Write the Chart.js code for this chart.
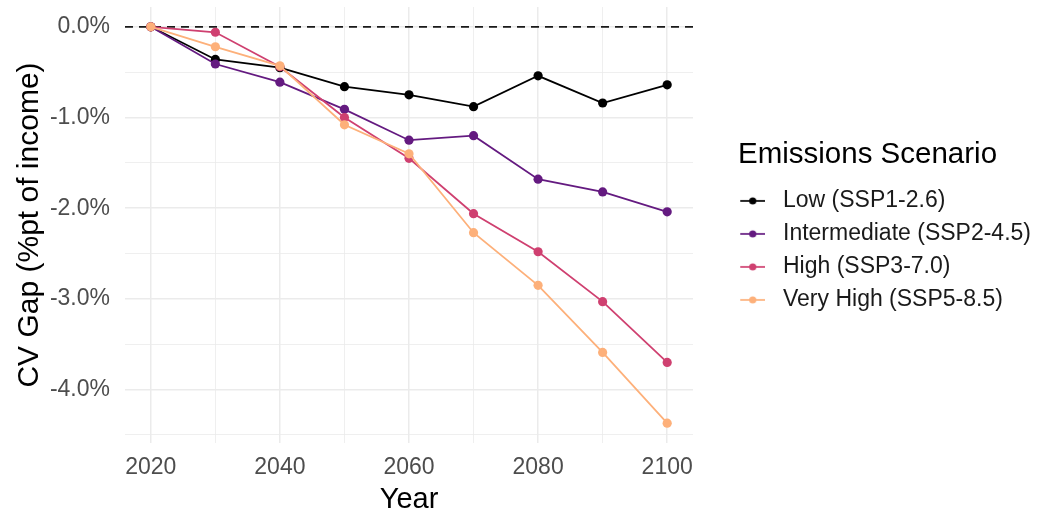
<!DOCTYPE html>
<html>
<head>
<meta charset="utf-8">
<script src="https://cdn.jsdelivr.net/npm/chart.js@4"></script>
<style>
  html, body { margin: 0; padding: 0; background: #fff; }
</style>
</head>
<body>
<canvas id="cvGapChart" width="1043" height="510"></canvas>
<script>
const years = [2020, 2030, 2040, 2050, 2060, 2070, 2080, 2090, 2100];
const scenarioNames = ["Low (SSP1-2.6)", "Intermediate (SSP2-4.5)", "High (SSP3-7.0)", "Very High (SSP5-8.5)"];
const lowGap = [0, -0.36, -0.45, -0.66, -0.75, -0.88, -0.54, -0.84, -0.64];
const intermediateGap = [0, -0.41, -0.61, -0.91, -1.25, -1.20, -1.68, -1.82, -2.04];
const highGap = [0, -0.06, -0.44, -1.00, -1.45, -2.06, -2.48, -3.03, -3.70];
const veryHighGap = [0, -0.22, -0.43, -1.08, -1.40, -2.27, -2.85, -3.59, -4.37];
const xTicks = [2020, 2030, 2040, 2050, 2060, 2070, 2080, 2090, 2100];
const yTicks = [-4.5, -4, -3.5, -3, -2.5, -2, -1.5, -1, -0.5, 0];
const legendTitleText = "Emissions Scenario";

const colors = ["#000000", "#641a80", "#cf4070", "#fdb07a"];
const series = [lowGap, intermediateGap, highGap, veryHighGap];

const font = "'Liberation Sans', Arial, sans-serif";
const titleSize = 29.5;
const titlePadTop = 133;

// line+dot legend keys (ggplot style); the key sits at the right end of the image
function legendKey(color) {
    const c = document.createElement("canvas");
    c.width = 56;
    c.height = 10;
    const g = c.getContext("2d");
    g.strokeStyle = color;
    g.lineWidth = 1.7;
    g.beginPath();
    g.moveTo(31, 5);
    g.lineTo(56, 5);
    g.stroke();
    g.fillStyle = color;
    g.beginPath();
    g.arc(43.5, 5, 3.6, 0, Math.PI * 2);
    g.fill();
    return c;
}

const zeroLine = {
    id: "zeroLine",
    beforeDatasetsDraw(chart) {
        const y = chart.scales.y.getPixelForValue(0);
        const ctx = chart.ctx;
        ctx.save();
        ctx.strokeStyle = "#1a1a1a";
        ctx.lineWidth = 1.8;
        ctx.setLineDash([8, 6]);
        ctx.beginPath();
        ctx.moveTo(chart.chartArea.left, y);
        ctx.lineTo(chart.chartArea.right, y);
        ctx.stroke();
        ctx.restore();
    }
};

// legend box gets capped to a quarter of the width by the layout, stretch it to the canvas edge so the labels are not clipped
// its title is kept invisible (it still reserves the space) and drawn here, left-aligned with the keys
const legendTweaks = {
    id: "legendTweaks",
    afterLayout(chart) {
        const lg = chart.legend;
        lg.right = chart.width;
        lg.width = lg.right - lg.left;
    },
    afterDraw(chart) {
        const lg = chart.legend;
        const ctx = chart.ctx;
        ctx.save();
        ctx.fillStyle = "#000";
        ctx.font = titleSize + "px " + font;
        ctx.textAlign = "left";
        ctx.textBaseline = "middle";
        ctx.fillText(legendTitleText, lg.left + 45, lg.top + titlePadTop + titleSize / 2);
        ctx.restore();
    }
};

const datasets = scenarioNames.map((name, i) => ({
    label: name,
    data: years.map((yr, j) => ({ x: yr, y: series[i][j] })),
    borderColor: colors[i],
    backgroundColor: colors[i],
    borderWidth: 1.8,
    pointRadius: 4.6,
    pointHoverRadius: 4.6,
    pointBorderWidth: 0,
    order: 3 - i,
    tension: 0
}));

const ctx = document.getElementById("cvGapChart").getContext("2d");

new Chart(ctx, {
    type: "line",
    data: { datasets: datasets },
    options: {
        responsive: false,
        animation: false,
        layout: { padding: { left: 0, right: 119, top: 7, bottom: 0 } },
        plugins: {
            tooltip: { enabled: false },
            legend: {
                position: "right",
                align: "start",
                title: {
                    display: true,
                    text: legendTitleText,
                    position: "start",
                    color: "rgba(0,0,0,0)",
                    font: { family: font, size: titleSize },
                    padding: { top: titlePadTop, bottom: 4 }
                },
                labels: {
                    usePointStyle: true,
                    pointStyleWidth: 68.5,
                    boxHeight: 20,
                    padding: 10,
                    color: "#1a1a1a",
                    font: { family: font, size: 23 },
                    sort: (a, b) => a.datasetIndex - b.datasetIndex,
                    generateLabels(chart) {
                        const items = Chart.defaults.plugins.legend.labels.generateLabels(chart);
                        items.forEach(it => { it.pointStyle = legendKey(colors[it.datasetIndex]); });
                        return items;
                    }
                }
            }
        },
        scales: {
            x: {
                type: "linear",
                min: 2016,
                max: 2104,
                afterBuildTicks: s => { s.ticks = xTicks.map(v => ({ value: v })); },
                afterFit: s => { s.height = 67; s.paddingLeft = 0; s.paddingRight = 0; },
                border: { display: false },
                grid: {
                    drawTicks: false,
                    color: "#ebebeb",
                    lineWidth: c => (c.tick && c.tick.value % 20 === 0 ? 1.5 : 0.8)
                },
                ticks: {
                    autoSkip: false,
                    maxRotation: 0,
                    padding: 11,
                    color: "#4d4d4d",
                    font: { family: font, size: 23 },
                    callback: v => (v % 20 === 0 ? String(v) : "")
                },
                title: {
                    display: true,
                    text: "Year",
                    color: "#000",
                    font: { family: font, size: 29 },
                    padding: { top: 0, bottom: -7 }
                }
            },
            y: {
                type: "linear",
                min: -4.5885,
                max: 0.2185,
                afterBuildTicks: s => { s.ticks = yTicks.map(v => ({ value: v })); },
                afterFit: s => { s.width = 125; s.paddingTop = 0; s.paddingBottom = 0; },
                border: { display: false },
                grid: {
                    drawTicks: false,
                    color: "#ebebeb",
                    lineWidth: c => (c.tick && Number.isInteger(c.tick.value) ? 1.5 : 0.8)
                },
                ticks: {
                    autoSkip: false,
                    padding: 15,
                    color: "#4d4d4d",
                    font: { family: font, size: 23 },
                    callback: v => (Number.isInteger(v) ? v.toFixed(1) + "%" : "")
                },
                title: {
                    display: true,
                    text: "CV Gap (%pt of income)",
                    color: "#000",
                    font: { family: font, size: 30 },
                    padding: { top: 12, bottom: 0 }
                }
            }
        }
    },
    plugins: [zeroLine, legendTweaks]
});
</script>
</body>
</html>
